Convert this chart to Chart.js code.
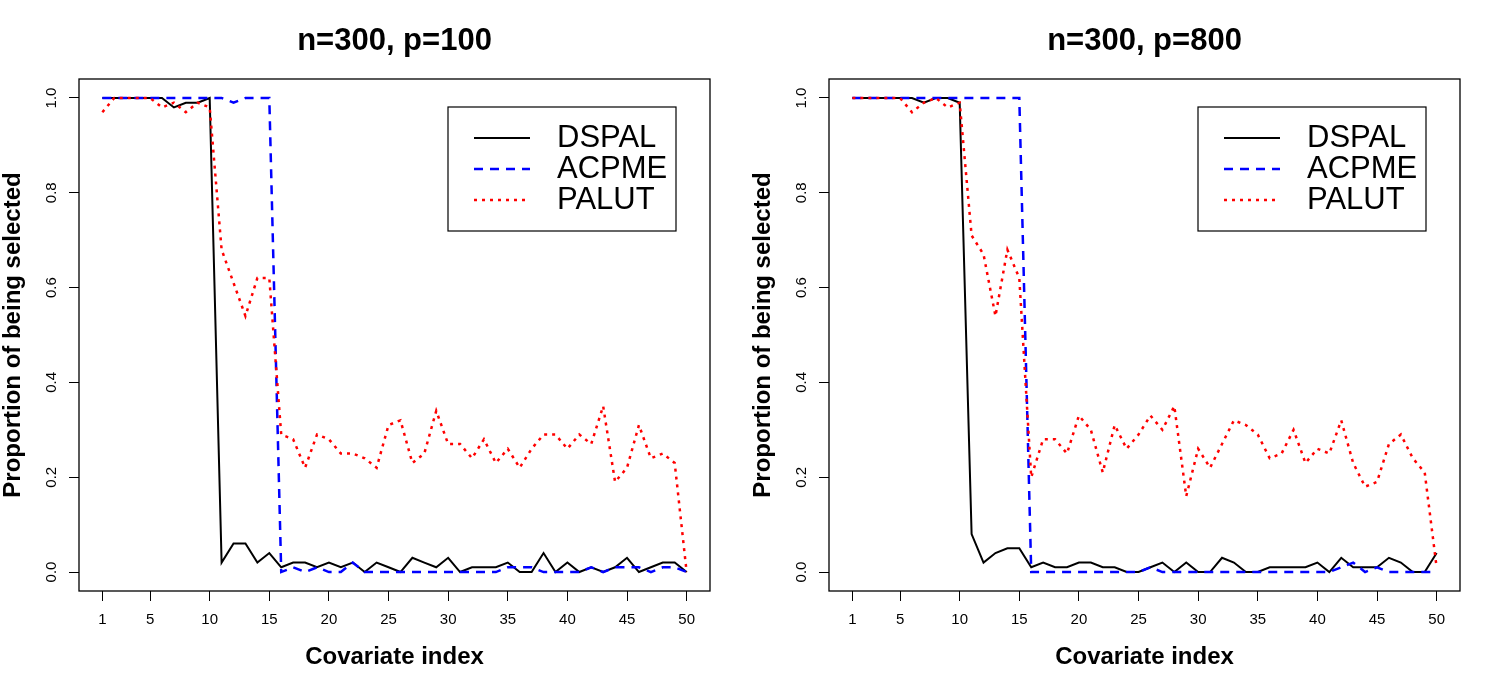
<!DOCTYPE html>
<html>
<head>
<meta charset="utf-8">
<script src="https://cdn.jsdelivr.net/npm/chart.js@4/dist/chart.umd.min.js"></script>
<style>
  body { margin: 0; background: #fff; }
  #wrap { display: flex; width: 1500px; height: 688px; }
  canvas { display: block; }
</style>
</head>
<body>
<div id="wrap">
  <canvas id="left" width="750" height="688"></canvas>
  <canvas id="right" width="750" height="688"></canvas>
</div>
<script>
const covariateIndex = [1, 2, 3, 4, 5, 6, 7, 8, 9, 10, 11, 12, 13, 14, 15, 16, 17, 18, 19, 20,
  21, 22, 23, 24, 25, 26, 27, 28, 29, 30, 31, 32, 33, 34, 35, 36, 37, 38, 39, 40,
  41, 42, 43, 44, 45, 46, 47, 48, 49, 50]
const xTicks = [1, 5, 10, 15, 20, 25, 30, 35, 40, 45, 50]
const yTicks = [0, 0.2, 0.4, 0.6, 0.8, 1.0]

// n=300, p=100
const dspal100 = [1, 1, 1, 1, 1, 1, 0.98, 0.99, 0.99, 1, 0.02, 0.06, 0.06, 0.02, 0.04,
  0.01, 0.02, 0.02, 0.01, 0.02, 0.01, 0.02, 0, 0.02, 0.01, 0, 0.03, 0.02, 0.01, 0.03,
  0, 0.01, 0.01, 0.01, 0.02, 0, 0, 0.04, 0, 0.02, 0, 0.01, 0, 0.01, 0.03, 0, 0.01, 0.02, 0.02, 0]
const acpme100 = [1, 1, 1, 1, 1, 1, 1, 1, 1, 1, 1, 0.99, 1, 1, 1,
  0, 0.01, 0, 0.01, 0, 0, 0.02, 0, 0, 0, 0, 0, 0, 0, 0,
  0, 0, 0, 0, 0.01, 0.01, 0.01, 0, 0, 0, 0, 0.01, 0, 0.01, 0.01, 0.01, 0, 0.01, 0.01, 0]
const palut100 = [0.97, 1, 1, 1, 1, 0.98, 0.99, 0.97, 0.99, 0.98, 0.68, 0.61, 0.54, 0.62, 0.62,
  0.29, 0.28, 0.22, 0.29, 0.28, 0.25, 0.25, 0.24, 0.22, 0.31, 0.32, 0.23, 0.25, 0.34, 0.27,
  0.27, 0.24, 0.28, 0.23, 0.26, 0.22, 0.26, 0.29, 0.29, 0.26, 0.29, 0.27, 0.35, 0.19, 0.22,
  0.31, 0.24, 0.25, 0.23, 0]

// n=300, p=800
const dspal800 = [1, 1, 1, 1, 1, 1, 0.99, 1, 1, 0.99, 0.08, 0.02, 0.04, 0.05, 0.05,
  0.01, 0.02, 0.01, 0.01, 0.02, 0.02, 0.01, 0.01, 0, 0, 0.01, 0.02, 0, 0.02, 0,
  0, 0.03, 0.02, 0, 0, 0.01, 0.01, 0.01, 0.01, 0.02, 0, 0.03, 0.01, 0.01, 0.01, 0.03, 0.02, 0, 0, 0.04]
const acpme800 = [1, 1, 1, 1, 1, 1, 1, 1, 1, 1, 1, 1, 1, 1, 1,
  0, 0, 0, 0, 0, 0, 0, 0, 0, 0, 0.01, 0, 0, 0, 0,
  0, 0, 0, 0, 0, 0, 0, 0, 0, 0, 0, 0.01, 0.02, 0, 0.01, 0, 0, 0, 0, 0]
const palut800 = [1, 1, 1, 1, 1, 0.97, 0.99, 1, 0.98, 0.99, 0.71, 0.67, 0.54, 0.68, 0.62,
  0.2, 0.28, 0.28, 0.25, 0.33, 0.3, 0.21, 0.31, 0.26, 0.29, 0.33, 0.3, 0.35, 0.16, 0.26,
  0.22, 0.27, 0.32, 0.31, 0.29, 0.24, 0.25, 0.3, 0.23, 0.26, 0.25, 0.32, 0.23, 0.18, 0.19,
  0.27, 0.29, 0.24, 0.21, 0.01]

const FONT = "'Liberation Sans', Arial, Helvetica, sans-serif"

// R style frame around the plot region
const boxPlugin = {
  id: 'box',
  afterDraw(chart) {
    const { ctx, chartArea: a } = chart
    ctx.save()
    ctx.strokeStyle = '#000'
    ctx.lineWidth = 1.3
    ctx.strokeRect(a.left, a.top, a.right - a.left, a.bottom - a.top)
    ctx.restore()
  },
}

// boxed legend in the top right corner, like R's legend("topright")
const legendPlugin = {
  id: 'rlegend',
  afterDraw(chart) {
    const { ctx, chartArea: a } = chart
    const w = 228, h = 124
    const x = a.right - 34 - w, y = a.top + 28
    ctx.save()
    ctx.fillStyle = '#fff'
    ctx.fillRect(x, y, w, h)
    ctx.strokeStyle = '#000'
    ctx.lineWidth = 1.2
    ctx.strokeRect(x, y, w, h)
    ctx.font = '31px ' + FONT
    ctx.textBaseline = 'middle'
    chart.data.datasets.forEach((ds, i) => {
      const cy = y + 31 + i * 31
      ctx.beginPath()
      ctx.strokeStyle = ds.borderColor
      ctx.lineWidth = ds.borderWidth
      ctx.setLineDash(ds.borderDash || [])
      ctx.moveTo(x + 26, cy)
      ctx.lineTo(x + 82, cy)
      ctx.stroke()
      ctx.setLineDash([])
      ctx.fillStyle = '#000'
      ctx.fillText(ds.label, x + 109, cy)
    })
    ctx.restore()
  },
}

function renderPanel(canvas, title, dspal, acpme, palut) {
  const config = {
    type: 'line',
    data: {
      labels: covariateIndex,
      datasets: [
        { label: 'DSPAL', data: dspal, borderColor: '#000', borderWidth: 2, order: 2 },
        { label: 'ACPME', data: acpme, borderColor: '#0000ff', borderWidth: 2.5, borderDash: [9, 7], order: 1 },
        { label: 'PALUT', data: palut, borderColor: '#ff0000', borderWidth: 2.5, borderDash: [3, 5], order: 0 },
      ],
    },
    options: {
      responsive: false,
      animation: false,
      layout: { padding: { left: 0, right: 40, top: 0, bottom: 0 } },
      elements: { point: { radius: 0 }, line: { tension: 0, fill: false } },
      plugins: {
        legend: { display: false },
        tooltip: { enabled: false },
        title: {
          display: true,
          text: title,
          fullSize: false,
          color: '#000',
          font: { family: FONT, size: 31, weight: 'bold', lineHeight: 1.2 },
          padding: { top: 23, bottom: 18.8 },
        },
      },
      scales: {
        x: {
          type: 'linear',
          min: -0.96,
          max: 51.96,
          afterBuildTicks: (s) => { s.ticks = xTicks.map((v) => ({ value: v })) },
          afterFit: (s) => { s.height = 97 },
          border: { display: false },
          grid: { drawOnChartArea: false, drawTicks: true, tickLength: 10, color: '#000', tickColor: '#000' },
          ticks: { color: '#000', font: { family: FONT, size: 15 }, padding: 10, maxRotation: 0, autoSkip: false },
          title: {
            display: true,
            text: 'Covariate index',
            color: '#000',
            font: { family: FONT, size: 24, weight: 'bold', lineHeight: 1.2 },
            padding: { top: 0, bottom: 16 },
          },
        },
        y: {
          min: -0.04,
          max: 1.04,
          afterBuildTicks: (s) => { s.ticks = yTicks.map((v) => ({ value: v })) },
          afterFit: (s) => { s.width = 79 },
          border: { display: false },
          grid: { drawOnChartArea: false, drawTicks: true, tickLength: 10, color: '#000', tickColor: '#000' },
          ticks: {
            color: '#000',
            font: { family: FONT, size: 15 },
            padding: 7,
            minRotation: 90,
            maxRotation: 90,
            crossAlign: 'center',
            callback: (v) => Number(v).toFixed(1),
          },
          title: {
            display: true,
            text: 'Proportion of being selected',
            color: '#000',
            font: { family: FONT, size: 24, weight: 'bold', lineHeight: 1 },
            padding: { top: 1, bottom: 0 },
          },
        },
      },
    },
    plugins: [boxPlugin, legendPlugin],
  }
  return new Chart(canvas, config)
}

renderPanel(document.getElementById('left'), 'n=300, p=100', dspal100, acpme100, palut100)
renderPanel(document.getElementById('right'), 'n=300, p=800', dspal800, acpme800, palut800)
</script>
</body>
</html>
